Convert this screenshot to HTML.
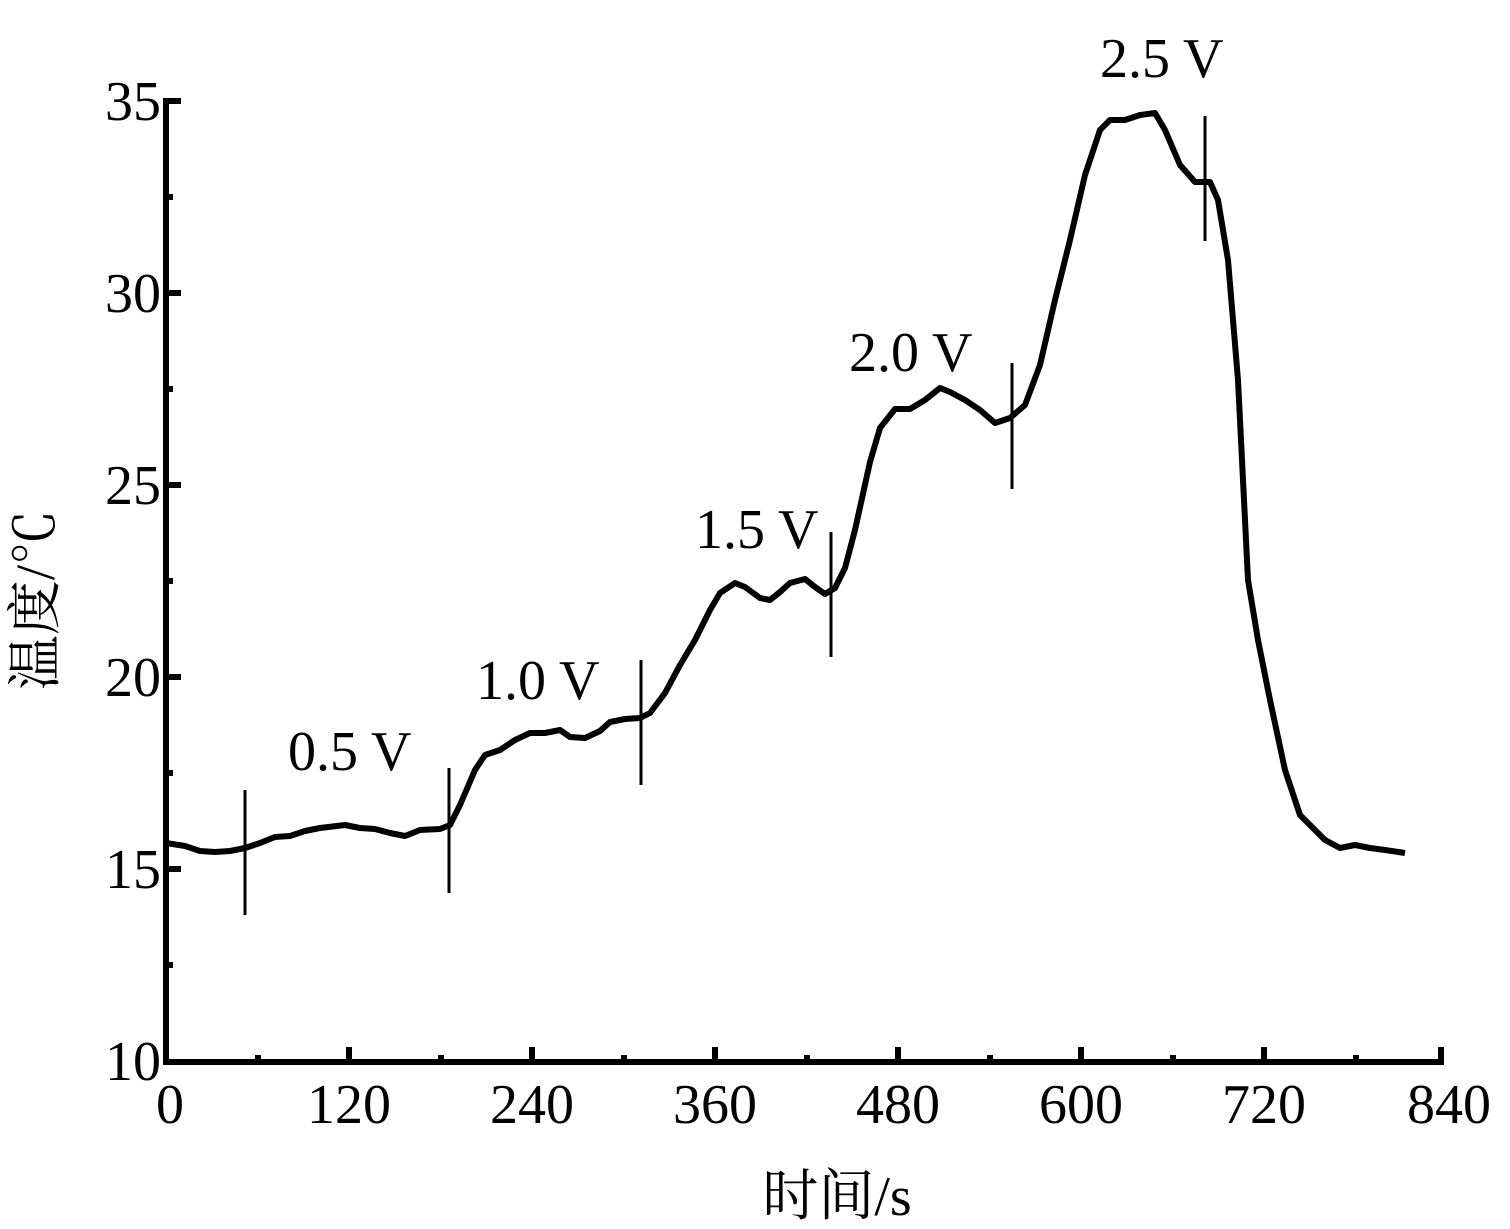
<!DOCTYPE html>
<html><head><meta charset="utf-8"><style>
html,body{margin:0;padding:0;background:#fff;}
svg{display:block;}
text{font-family:"Liberation Serif","Noto Serif CJK SC",serif;fill:#000;}
</style></head><body>
<svg width="1510" height="1229" viewBox="0 0 1510 1229" xmlns="http://www.w3.org/2000/svg">
<g stroke="#000" stroke-width="6" fill="none">
<line x1="166" y1="98" x2="166" y2="1065"/>
<line x1="163" y1="1062" x2="1444" y2="1062"/>
<path d="M166 101H181M166 293H181M166 485H181M166 677H181M166 869H181M166 197H173M166 389H173M166 581H173M166 773H173M166 965H173"/>
<path d="M349 1062V1047M532 1062V1047M715 1062V1047M898 1062V1047M1081 1062V1047M1264 1062V1047M1441 1062V1047M258 1062V1055M441 1062V1055M624 1062V1055M807 1062V1055M990 1062V1055M1173 1062V1055M1356 1062V1055"/>
</g>
<g font-size="56" text-anchor="end">
<text x="161" y="120">35</text><text x="161" y="312">30</text><text x="161" y="504">25</text><text x="161" y="696">20</text><text x="161" y="888">15</text><text x="161" y="1080">10</text>
</g>
<g font-size="56" text-anchor="middle">
<text x="170" y="1123">0</text><text x="349" y="1123">120</text><text x="532" y="1123">240</text><text x="715" y="1123">360</text><text x="898" y="1123">480</text><text x="1081" y="1123">600</text><text x="1264" y="1123">720</text><text x="1449" y="1123">840</text>
</g>
<text x="837" y="1215" font-size="56" text-anchor="middle">时间/s</text>
<text transform="translate(54,600) rotate(-90)" font-size="55" text-anchor="middle">温度/℃</text>
<g font-size="56">
<text x="288" y="770">0.5 V</text><text x="476" y="699">1.0 V</text><text x="695" y="548">1.5 V</text><text x="849" y="371">2.0 V</text><text x="1100" y="77">2.5 V</text>
</g>
<path fill="none" stroke="#000" stroke-width="6" stroke-linejoin="round" d="M166 843L185 846L200 851L215 852L230 851L245 848L260 843L275 837L290 836L305 831L320 828L345 825L360 828L375 829L390 833L405 836L420 830L440 829L450 825L460 805L475 770L485 755L500 750L515 740L530 733L545 733L560 730L570 737L585 738L600 731L610 722L625 719L640 718L650 713L665 693L680 665L695 640L710 610L720 593L735 583L745 587L760 598L770 600L780 592L790 583L805 579L815 587L825 594L835 588L845 568L855 530L870 462L880 428L895 409L910 409L925 400L940 388L950 392L965 400L980 410L995 423L1010 418L1025 405L1040 365L1055 300L1070 240L1085 175L1100 130L1110 120L1125 120L1140 115L1155 113L1165 130L1180 165L1195 182L1210 182L1218 200L1228 260L1238 380L1248 580L1258 640L1270 700L1285 770L1300 815L1310 825L1325 840L1340 848L1355 845L1370 848L1385 850L1405 853"/>
<g stroke="#000" stroke-width="3">
<line x1="245" y1="790" x2="245" y2="915"/><line x1="449" y1="768" x2="449" y2="893"/><line x1="641" y1="660" x2="641" y2="785"/><line x1="831" y1="532" x2="831" y2="657"/><line x1="1012" y1="363" x2="1012" y2="489"/><line x1="1205" y1="116" x2="1205" y2="241"/>
</g>
</svg>
</body></html>
